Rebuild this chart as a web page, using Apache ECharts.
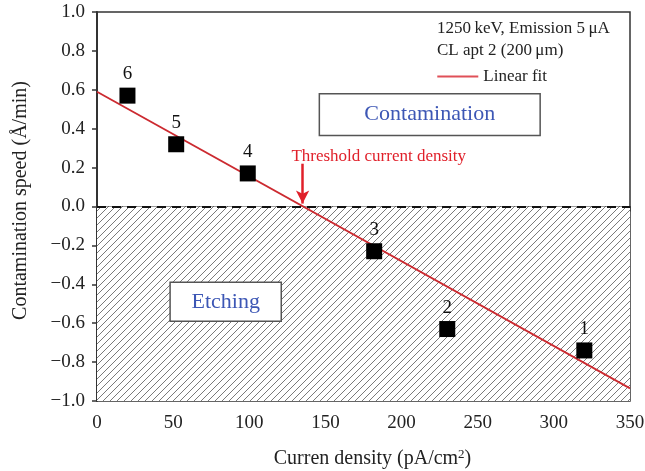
<!DOCTYPE html>
<html><head><meta charset="utf-8">
<script src="https://cdn.jsdelivr.net/npm/echarts@6/dist/echarts.min.js"></script>
<style>html,body{margin:0;padding:0;background:#fff}#c{width:645px;height:471px}</style>
</head><body><div id="c"></div>
<script>
// Data
var pointLabels = ['6', '5', '4', '3', '2', '1'];
var currentDensity = [20, 52, 99, 182, 230, 320];
var contaminationSpeed = [0.57, 0.32, 0.17, -0.23, -0.63, -0.74];
var fitX = [0, 350];
var fitY = [0.59, -0.935];
var thresholdX = 135;
var xTicks = [0, 50, 100, 150, 200, 250, 300, 350];
var yTicks = [-1.0, -0.8, -0.6, -0.4, -0.2, 0.0, 0.2, 0.4, 0.6, 0.8, 1.0];

var FONT = '"Liberation Serif", "DejaVu Serif", serif';

// hatch pattern
var pc = document.createElement('canvas');
pc.width = 7; pc.height = 7;
var g = pc.getContext('2d');
g.fillStyle = '#fff'; g.fillRect(0, 0, 7, 7);
g.strokeStyle = '#7a7a7a'; g.lineWidth = 1;
g.beginPath();
g.moveTo(-1, 8); g.lineTo(8, -1);
g.moveTo(-1, 1); g.lineTo(1, -1);
g.moveTo(6, 8); g.lineTo(8, 6);
g.stroke();

var chart = echarts.init(document.getElementById('c'), null, {renderer: 'canvas'});
var scatterData = currentDensity.map(function (x, i) { return {value: [x, contaminationSpeed[i]], name: pointLabels[i]}; });
var fitData = fitX.map(function (x, i) { return [x, fitY[i]]; });

chart.setOption({
  animation: false,
  textStyle: {fontFamily: FONT},
  grid: {left: 97, right: 15, top: 12, bottom: 70, show: true, borderColor: '#333', borderWidth: 1.5,
    containLabel: false, outerBoundsMode: 'none'},
  legend: {
    data: ['Linear fit'], right: 93, top: 63, icon: 'rect', itemWidth: 41, itemHeight: 2,
    itemGap: 4, textStyle: {fontFamily: FONT, fontSize: 17, color: '#222'}
  },
  xAxis: {
    type: 'value', min: 0, max: 350, interval: 50,
    name: '{n|Curren density (pA/cm}{s|2}{n|)}', nameLocation: 'middle', nameGap: 47,
    nameTextStyle: {fontFamily: FONT, fontSize: 20, color: '#222', padding: [0, 0, 0, 18],
      rich: {n: {fontFamily: FONT, fontSize: 20, color: '#222'}, s: {fontFamily: FONT, fontSize: 13, color: '#222', verticalAlign: 'top', padding: [0, 0, 8, 0]}}},
    axisLine: {lineStyle: {color: '#333', width: 2}},
    axisTick: {length: 5, lineStyle: {color: '#333', width: 1.5}},
    minorTick: {show: true, splitNumber: 2, length: 3, lineStyle: {color: '#333'}},
    splitLine: {show: false},
    axisLabel: {fontFamily: FONT, fontSize: 19, color: '#222', margin: 13}
  },
  yAxis: {
    type: 'value', min: -1, max: 1, interval: 0.2,
    name: 'Contamination speed (Å/min)', nameLocation: 'middle', nameGap: 66,
    nameTextStyle: {fontFamily: FONT, fontSize: 20, color: '#222', padding: [0, 0, 0, 12]},
    axisLine: {lineStyle: {color: '#333', width: 2}},
    axisTick: {length: 5, lineStyle: {color: '#333', width: 1.5}},
    splitLine: {show: false},
    axisLabel: {fontFamily: FONT, fontSize: 19, color: '#222', margin: 12,
      formatter: function (v) { return (v < 0 ? '\u2212' : '') + Math.abs(v).toFixed(1); }}
  },
  series: [
    {
      name: 'region', type: 'line', data: [], silent: true,
      markArea: {
        silent: true,
        itemStyle: {color: {image: pc, repeat: 'repeat'}, opacity: 1},
        data: [[{coord: [0, -1]}, {coord: [350, 0]}]]
      },
      markLine: {
        silent: true, symbol: ['none', 'none'], label: {show: false},
        lineStyle: {color: '#111', width: 2.2, type: [9, 6]},
        data: [{yAxis: 0}]
      },
      z: 1
    },
    {
      name: 'Linear fit', type: 'line', data: fitData, showSymbol: false, symbol: 'none',
      lineStyle: {color: '#cc2a30', width: 1.8}, itemStyle: {color: '#e05058'}, z: 3,
      markLine: {
        silent: true, symbol: ['none', 'arrow'], symbolSize: [10, 13], label: {show: false},
        lineStyle: {color: '#e0202a', width: 2.5, type: 'solid'},
        data: [[{coord: [thresholdX, 0.22]}, {coord: [thresholdX, 0.015]}]]
      }
    },
    {
      name: 'data', type: 'scatter', data: scatterData, symbol: 'rect', symbolSize: 16,
      itemStyle: {color: '#000', opacity: 1}, z: 4,
      label: {show: true, position: 'top', distance: 4, formatter: '{b}', fontFamily: FONT, fontSize: 19, color: '#111'}
    }
  ]
});

function px(x, y) { return chart.convertToPixel({gridIndex: 0}, [x, y]); }
var cTL = px(146, 0.58), cBR = px(291, 0.365);
var eTL = px(48, -0.39), eBR = px(121, -0.59);
var thr = px(185, 0.255);
chart.setOption({
  graphic: [
    {type: 'rect', shape: {x: cTL[0], y: cTL[1], width: cBR[0] - cTL[0], height: cBR[1] - cTL[1]},
      style: {fill: '#fff', stroke: '#555', lineWidth: 1.5}, z: 10},
    {type: 'text', x: (cTL[0] + cBR[0]) / 2, y: (cTL[1] + cBR[1]) / 2,
      style: {text: 'Contamination', font: '22px ' + FONT, fill: '#3d57b5', align: 'center', verticalAlign: 'middle'}, z: 11},
    {type: 'rect', shape: {x: eTL[0], y: eTL[1], width: eBR[0] - eTL[0], height: eBR[1] - eTL[1]},
      style: {fill: '#fff', stroke: '#555', lineWidth: 1.5}, z: 10},
    {type: 'text', x: (eTL[0] + eBR[0]) / 2, y: (eTL[1] + eBR[1]) / 2,
      style: {text: 'Etching', font: '22px ' + FONT, fill: '#3d57b5', align: 'center', verticalAlign: 'middle'}, z: 11},
    {type: 'text', x: thr[0], y: thr[1],
      style: {text: 'Threshold current density', font: '17px ' + FONT, fill: '#e0202a', align: 'center', verticalAlign: 'middle'}, z: 11},
    {type: 'text', x: 437, y: 29,
      style: {text: '1250\u2009keV, Emission 5\u2009\u03bcA', font: '17px ' + FONT, fill: '#222', align: 'left', verticalAlign: 'middle'}, z: 11},
    {type: 'text', x: 437, y: 51,
      style: {text: 'CL apt 2 (200\u2009\u03bcm)', font: '17px ' + FONT, fill: '#222', align: 'left', verticalAlign: 'middle'}, z: 11}
  ]
});
</script></body></html>
